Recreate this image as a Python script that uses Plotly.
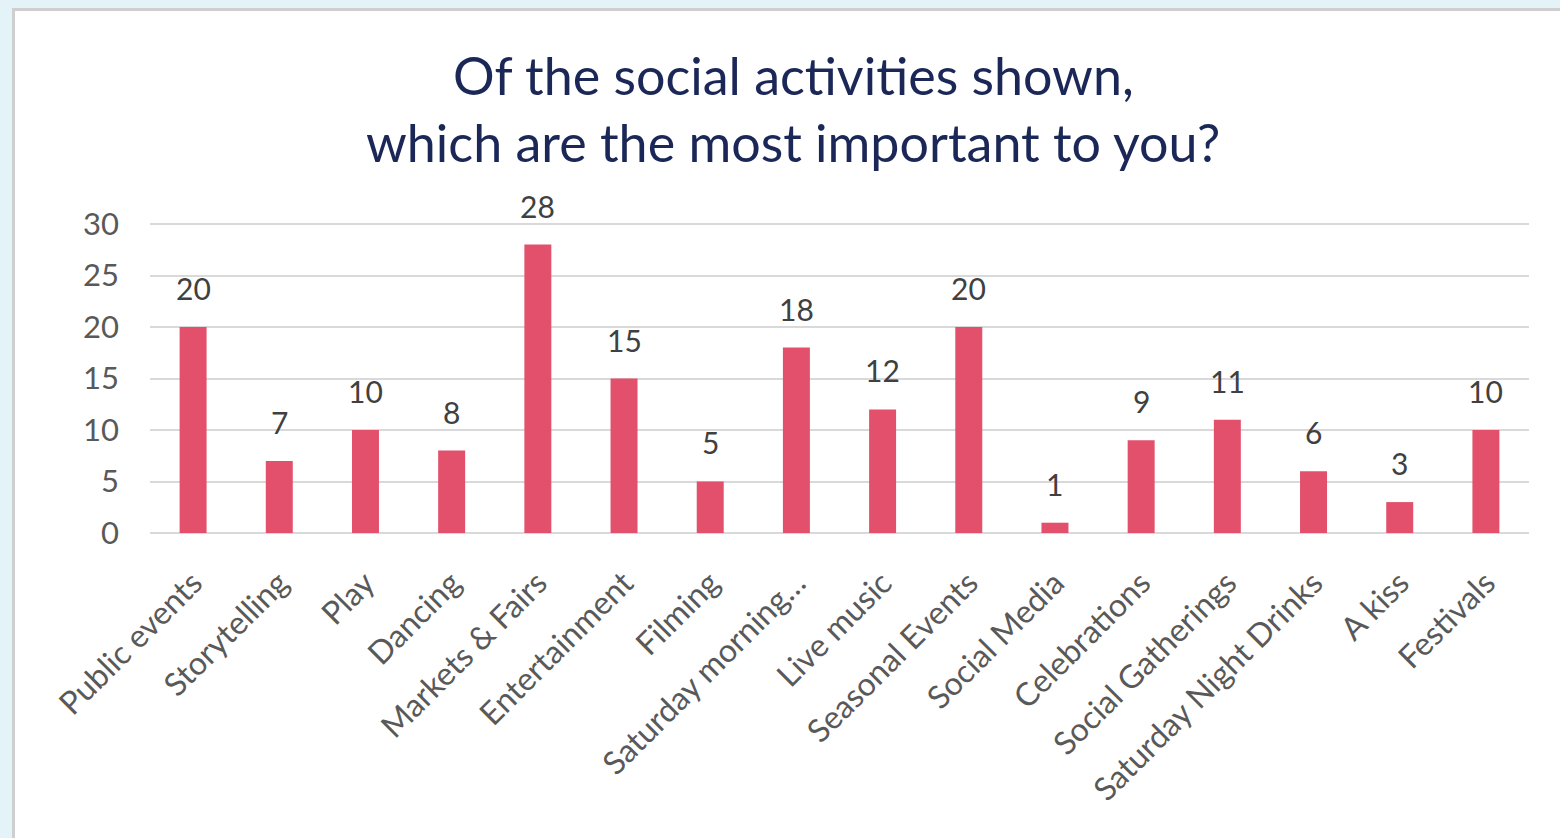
import plotly.graph_objects as go

# Survey results: number of respondents choosing each activity
categories = [
    "Public events", "Storytelling", "Play", "Dancing", "Markets & Fairs",
    "Entertainment", "Filming", "Saturday morning…", "Live music",
    "Seasonal Events", "Social Media", "Celebrations", "Social Gatherings",
    "Saturday Night Drinks", "A kiss", "Festivals",
]
counts = [20, 7, 10, 8, 28, 15, 5, 18, 12, 20, 1, 9, 11, 6, 3, 10]
y_ticks = [0, 5, 10, 15, 20, 25, 30]

title_lines = ["Of the social activities shown,", "which are the most important to you?"]

W, H = 1560, 838
FONT = "Lato"
BAR = "#e2506c"
TICK_GREY = "#595959"
LABEL_GREY = "#404040"
NAVY = "#1b2857"

fig = go.Figure()
fig.add_trace(go.Bar(
    x=categories, y=counts, marker=dict(color=BAR, line=dict(width=0)),
    hoverinfo="x+y",
))

# value labels above each bar
for c, v in zip(categories, counts):
    fig.add_annotation(
        x=c, y=v, xref="x", yref="y", text=str(v), showarrow=False,
        yanchor="middle", yshift=39,
        font=dict(family=FONT, size=30, color=LABEL_GREY),
    )

# two-line title
for i, line in enumerate(title_lines):
    fig.add_annotation(
        x=793 / W, y=1 - (75 + 67 * i) / H, xref="paper", yref="paper",
        text=line, showarrow=False, xanchor="center", yanchor="middle",
        font=dict(family=FONT, size=52, color=NAVY),
    )

# white card with grey edge on the light-blue page
fig.add_shape(
    type="rect", xref="paper", yref="paper",
    x0=13.5 / W, x1=1.02, y0=-0.02, y1=1 - 9.5 / H,
    line=dict(color="#cfcfcf", width=3), fillcolor="white", layer="below",
)

# y scale: 0..30 spans 533px..224px; a little headroom keeps the 30 gridline drawn
Y_MAX = 30.3
px_per_unit = (533 - 224) / 30
y_top_px = 533 - Y_MAX * px_per_unit

fig.update_layout(
    width=W, height=H,
    margin=dict(l=0, r=0, t=0, b=0),
    paper_bgcolor="#e4f3f8", plot_bgcolor="rgba(0,0,0,0)",
    bargap=0.687, showlegend=False,
    font=dict(family=FONT),
    xaxis=dict(
        domain=[150 / W, 1529 / W], tickangle=-45,
        tickfont=dict(family=FONT, size=32, color=TICK_GREY),
        showgrid=False, showline=False, zeroline=False,
        ticks="", ticklabelstandoff=24, automargin=False,
    ),
    yaxis=dict(
        domain=[1 - 533 / H, 1 - y_top_px / H], range=[0, Y_MAX],
        tickvals=y_ticks, ticks="", ticklabelstandoff=30,
        tickfont=dict(family=FONT, size=31, color=TICK_GREY),
        showgrid=True, gridcolor="#d9d9d9", gridwidth=2,
        zeroline=True, zerolinecolor="#d9d9d9", zerolinewidth=2,
        showline=False, automargin=False,
    ),
)

fig.write_html("out.html")
